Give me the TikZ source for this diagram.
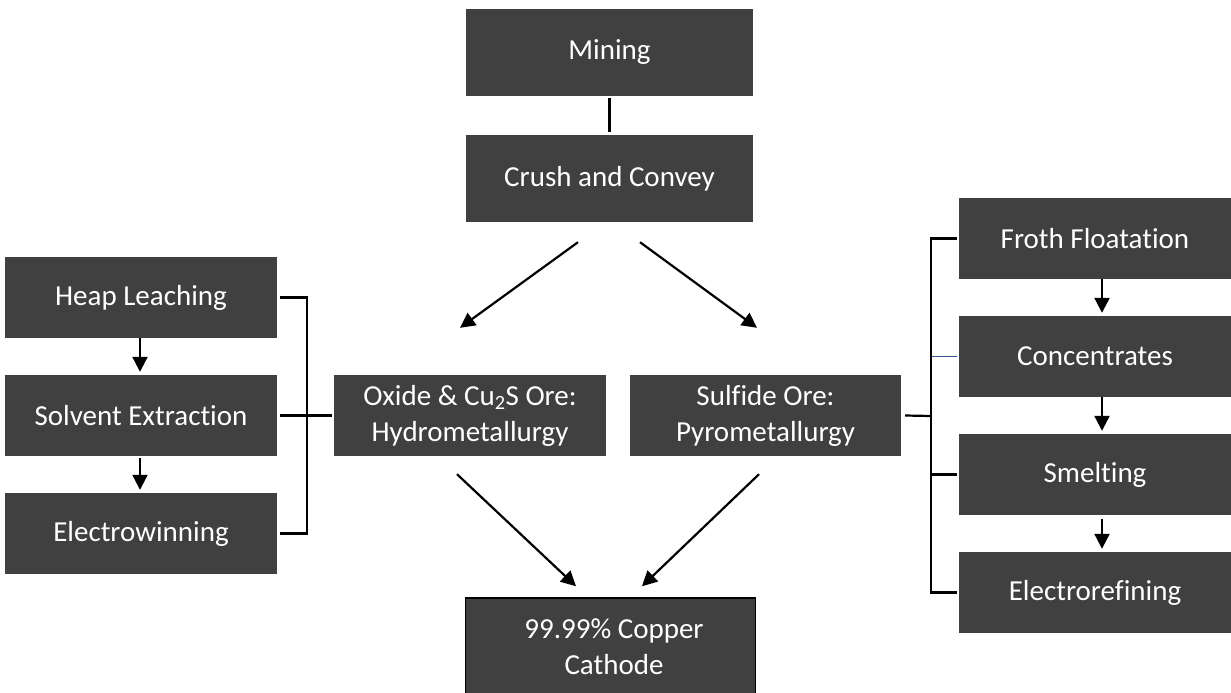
\documentclass[tikz,border=0pt]{standalone}
\usepackage{fontspec}
\setmainfont{Carlito}[Ligatures=NoCommon]
\usetikzlibrary{arrows.meta}
\definecolor{boxgray}{HTML}{404040}
\definecolor{lineblue}{HTML}{2F5597}
\begin{document}
\begin{tikzpicture}[x=1pt,y=-1pt,
  box/.style={fill=boxgray, text=white, align=center, inner sep=0pt,
    font=\fontsize{29}{36}\selectfont},
  conn/.style={line width=2.2pt, black},
  arr/.style={line width=2.2pt, black, -{Triangle[length=15pt,width=15pt]}}]
\useasboundingbox (0,0) rectangle (1231,693);
% center column
\node[box, minimum width=287pt, minimum height=87pt] (mining) at (609.5,52.5) {Mining};
\node[box, minimum width=287pt, minimum height=87pt] (crush) at (609.5,178.5) {Crush and Convey};
\node[box, minimum width=272pt, minimum height=81pt] (oxide) at (470,415.5) {Oxide \& Cu\textsubscript{2}S Ore:\\Hydrometallurgy};
\node[box, minimum width=271pt, minimum height=81pt] (sulf) at (765.5,415.5) {Sulfide Ore:\\Pyrometallurgy};
\node[box, draw=black, line width=1.5pt, minimum width=290pt, minimum height=100pt] (cath) at (610.5,648) {};
\node[box, fill=none] (cathtext) at (614,647) {99.99\% Copper\\Cathode};
% left column
\node[box, minimum width=272pt, minimum height=81pt] (heap) at (141,297.5) {Heap Leaching};
\node[box, minimum width=272pt, minimum height=81pt] (solv) at (141,415.5) {Solvent Extraction};
\node[box, minimum width=272pt, minimum height=81pt] (elwin) at (141,533.5) {Electrowinning};
% right column
\node[box, minimum width=272pt, minimum height=81pt] (froth) at (1095,238.5) {Froth Floatation};
\node[box, minimum width=272pt, minimum height=81pt] (conc) at (1095,356.5) {Concentrates};
\node[box, minimum width=272pt, minimum height=81pt] (smelt) at (1095,474.5) {Smelting};
\node[box, minimum width=272pt, minimum height=81pt] (elref) at (1095,592.5) {Electrorefining};
% bracket coordinates
\coordinate (bl) at (307,415.5);
\coordinate (br) at (931,416);
% connectors
\draw[conn] ([yshift=-2pt]mining.south) -- ([yshift=3pt]crush.north);
\draw[arr] ([xshift=-31.5pt,yshift=-20pt]crush.south) -- ([xshift=-10pt,yshift=47pt]oxide.north);
\draw[arr] ([xshift=30.5pt,yshift=-20pt]crush.south) -- ([xshift=-8.5pt,yshift=47pt]sulf.north);
\draw[arr] ([xshift=-13pt,yshift=-18pt]oxide.south) -- ([xshift=-34.5pt,yshift=11pt]cath.north);
\draw[arr] ([xshift=-6.5pt,yshift=-18pt]sulf.south) -- ([xshift=31.5pt,yshift=11pt]cath.north);
% left bracket
\draw[conn] ([xshift=3pt]heap.east) -| (bl) |- ([xshift=3pt]elwin.east);
\draw[conn] ([xshift=3pt]solv.east) -- ([xshift=-2pt]oxide.west);
\draw[arr] ([xshift=-1pt]heap.south) -- ([xshift=-1pt,yshift=3pt]solv.north);
\draw[arr] ([xshift=-1pt,yshift=-2pt]solv.south) -- ([xshift=-1pt,yshift=3pt]elwin.north);
% right bracket
\draw[conn] ([xshift=-2pt]froth.west) -| (br) |- ([xshift=-2pt]elref.west);
\draw[conn] ([xshift=4pt]sulf.east) -- (br);
\draw[line width=1.5pt, lineblue] ([xshift=1pt]br |- conc.west) -- ([xshift=-2pt]conc.west);
\draw[conn] (br |- smelt.west) -- ([xshift=-2pt]smelt.west);
\draw[arr] ([xshift=7pt]froth.south) -- ([xshift=7pt,yshift=3pt]conc.north);
\draw[arr] ([xshift=7pt]conc.south) -- ([xshift=7pt,yshift=3pt]smelt.north);
\draw[arr] ([xshift=7pt,yshift=-4pt]smelt.south) -- ([xshift=7pt,yshift=3pt]elref.north);
\end{tikzpicture}
\end{document}
